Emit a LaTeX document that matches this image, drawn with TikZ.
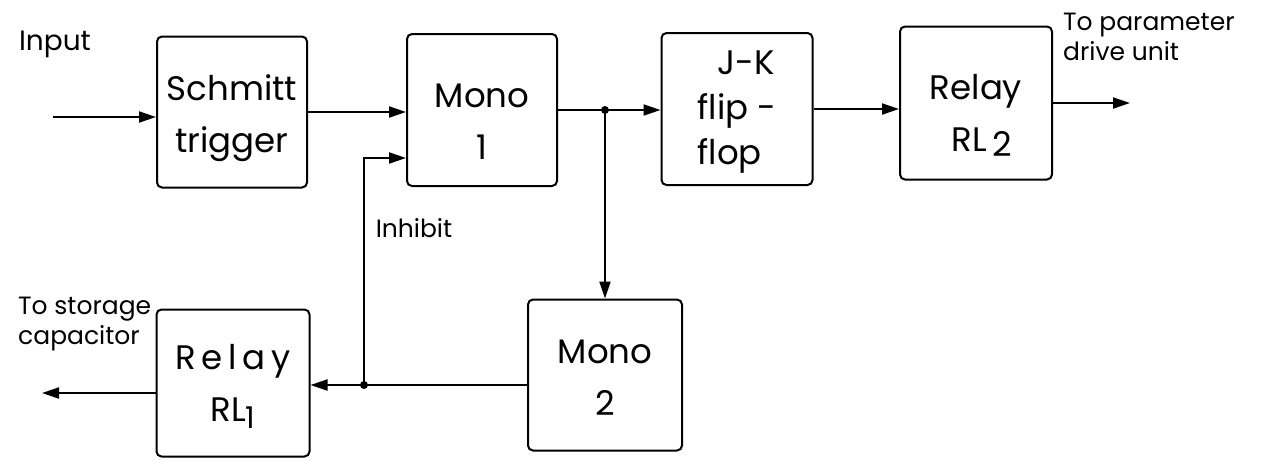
\documentclass[tikz,border=0pt]{standalone}
\usepackage{fontspec}
\setmainfont{Poppins}
\usetikzlibrary{arrows.meta}
\tikzset{
  blk/.style={draw, line width=2pt, rounded corners=5pt, align=center,
              inner sep=0pt, font=\fontsize{34}{44}\selectfont},
  wire/.style={line width=2pt},
  arr/.style={wire, -{Triangle[length=17pt,width=11pt]}},
  lbl/.style={inner sep=0pt, align=left},
  dot/.style={circle, fill, inner sep=0pt, minimum size=8pt},
}
% strut that lowers the first line of a block's text
\newcommand{\lowfirst}[1]{\rule{0pt}{#1}}
\begin{document}
\begin{tikzpicture}[x=1pt, y=-1pt]
  \useasboundingbox (0,0) rectangle (1261,459);

  % blocks
  \node[blk, minimum width=150pt, minimum height=151pt] (schmitt) at (232,112)
       {\lowfirst{39pt}Schmitt\\[8pt]trigger};
  \node[blk, minimum width=150pt, minimum height=152pt] (mono1) at (482,110)
       {\lowfirst{46pt}Mono\\[8pt]1};
  \node[blk, minimum width=151pt, minimum height=152pt, align=left] (jk) at (737,109)
       {\lowfirst{30pt}\hspace*{20pt}J-K\\[1pt]flip -\\[1pt]flop};
  \node[blk, minimum width=152pt, minimum height=153pt] (rl2) at (976,103)
       {\lowfirst{50pt}Relay\\[8pt]\hspace*{12pt}RL\,\raisebox{-0.3ex}{2}};
  \node[blk, minimum width=153pt, minimum height=147pt] (rl1) at (233,383)
       {\lowfirst{32pt}R\,e\,l\,a\,y\\[8pt]RL\raisebox{-0.4ex}{\fontsize{30}{30}\selectfont 1}};
  \node[blk, minimum width=154pt, minimum height=151pt] (mono2) at (605,375)
       {\lowfirst{28pt}Mono\\[8pt]2};

  % free ends and junctions
  \coordinate (in) at (53,117);
  \coordinate (out2) at (1130,103);
  \coordinate (out1) at (42,393);
  \coordinate (j1) at (mono1.east -| mono2.north);
  \coordinate (j2) at (364,385);
  \coordinate (inh) at (407,158);

  % connectors
  \draw[arr] (in) -- (in -| schmitt.west);
  \draw[arr] (schmitt.east) -- (schmitt.east -| mono1.west);
  \draw[arr] (mono1.east) -- (mono1.east -| jk.west);
  \draw[arr] (j1) -- (mono2.north);
  \draw[arr] (jk.east) -- (jk.east -| rl2.west);
  \draw[arr] (rl2.east) -- (out2);
  \draw[arr] (mono2.west |- j2) -- (rl1.east |- j2);
  \draw[arr] (j2) |- (inh -| mono1.west);
  \draw[arr] (rl1.west |- out1) -- (out1);
  \node[dot] (d1) at (j1) {};
  \node[dot] (d2) at (j2) {};

  % labels
  \node[lbl, font=\fontsize{28}{30}\selectfont] (lin) at (55,44) {Input};
  \node[lbl, font=\fontsize{25}{27}\selectfont] (linh) at (414,228) {Inhibit};
  \node[lbl, anchor=west, font=\fontsize{25}{27}\selectfont] (lout2) at (1063,37) {To parameter\\[3pt]drive unit};
  \node[lbl, anchor=west, font=\fontsize{25}{27}\selectfont] (lout1) at (18,324) {To storage\\[3pt]capacitor};
\end{tikzpicture}
\end{document}
